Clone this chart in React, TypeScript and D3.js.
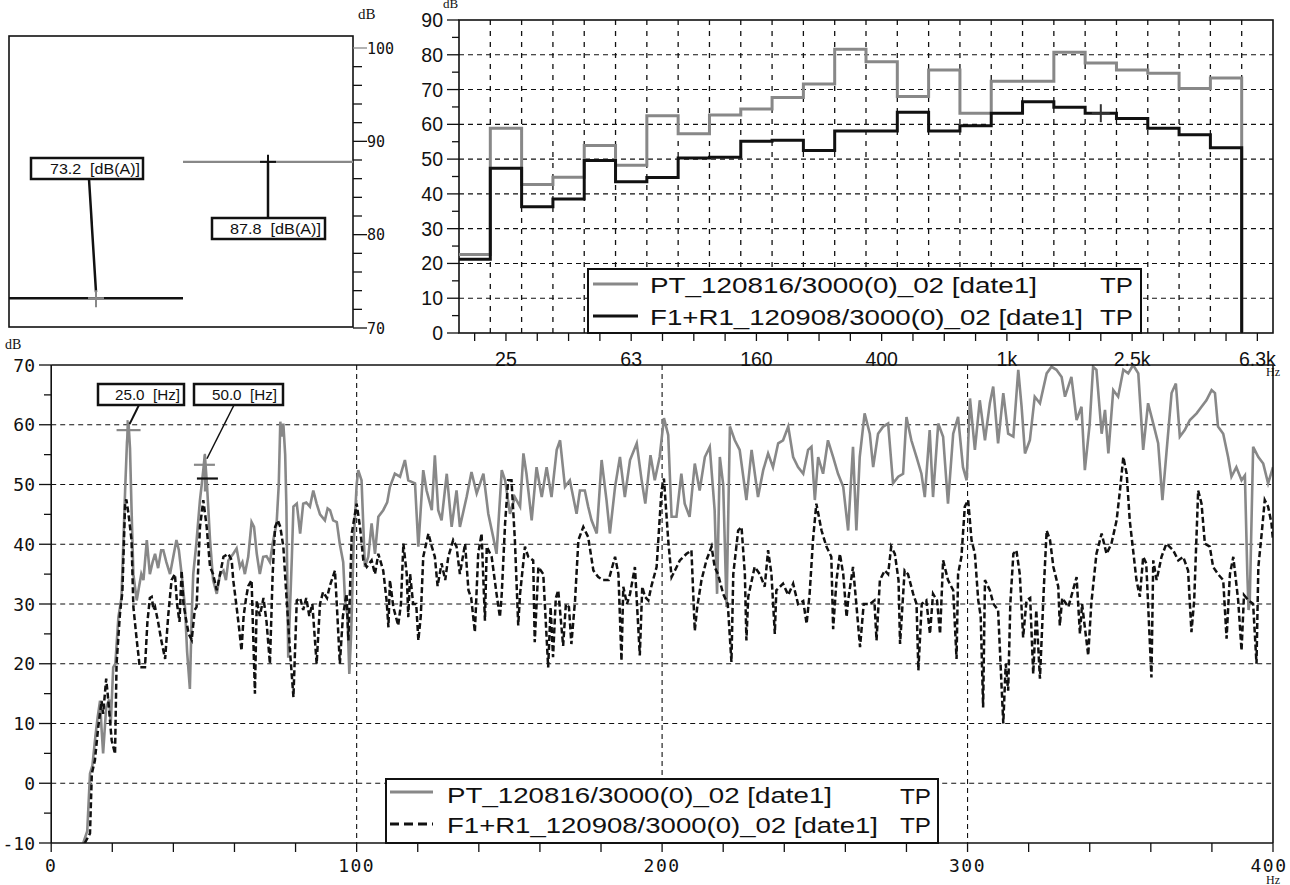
import React from 'react';
import * as d3 from 'd3';

// ---------------- data ----------------
const bandNames = ['20', '25', '31.5', '40', '50', '63', '80', '100', '125', '160', '200', '250', '315', '400', '500', '630', '800', '1k', '1.25k', '1.6k', '2k', '2.5k', '3.15k', '4k', '5k', '6.3k'];
const bandLabels = ['25', '63', '160', '400', '1k', '2.5k', '6.3k'];
const bandGray = [22.6, 58.9, 42.7, 44.8, 53.9, 48.2, 62.5, 57.3, 62.7, 64.4, 67.7, 71.6, 81.6, 78.0, 68.0, 75.6, 63.2, 72.4, 72.4, 80.7, 77.6, 75.6, 74.7, 70.3, 73.3];
const bandBlack = [21.2, 47.4, 36.3, 38.5, 49.6, 43.5, 44.7, 50.3, 50.5, 55.1, 55.4, 52.5, 58.1, 58.1, 63.5, 58.1, 59.6, 63.2, 66.5, 64.9, 63.2, 61.7, 58.9, 57.0, 53.3];
const bandTicks = [0, 10, 20, 30, 40, 50, 60, 70, 80, 90];
const bandCursor = { band: '2k', value: 63.2 };

const overallBlack = 73.2;
const overallGray = 87.8;
const overallTicks = [70, 80, 90, 100];

const specTicksY = [-10, 0, 10, 20, 30, 40, 50, 60, 70];
const specTicksX = [0, 100, 200, 300, 400];
const cursorHz = [25, 50];
const cursorGray = [59.1, 53.3];
const cursorBlack50 = 51.0;
const legendNames = ['PT_120816/3000(0)_02 [date1]', 'F1+R1_120908/3000(0)_02 [date1]'];

const specGray: [number, number][] = [
  [10.5, -10], [11.8, -8], [12.7, 1.6], [13.5, 3], [14.5, 8], [15.2, 11], [16, 13.8], [16.5, 9], [17, 5], [18, 12.7], [19, 14], [19.5, 10], [20.3, 19.4], [21, 20], [22, 27.8], [23, 31], [23.6, 40], [24.2, 49], [24.8, 57], [25.3, 60.5], [25.8, 56], [26.3, 46], [26.9, 35], [28, 30.6], [28.8, 33], [29.5, 35], [30.2, 34], [31.3, 40.7], [32.3, 35], [33.2, 37], [34, 38.4], [35, 36], [36, 39], [36.7, 39], [37.7, 37], [38.9, 35], [40, 38], [41, 40.7], [41.8, 39], [42.7, 35], [43.8, 29.5], [44.5, 22], [45.4, 15.8], [46, 28], [46.5, 35], [47.5, 40], [48.7, 47.4], [49.5, 51], [50.3, 55], [51, 50], [52, 40.7], [53, 34], [54.2, 31.7], [55.3, 35], [56.4, 35.6], [57.2, 34], [58, 37.3], [59.6, 38.4], [60.7, 39.3], [61.8, 36.2], [62.6, 37], [63.4, 35], [64.5, 37.9], [65.6, 43.7], [66.4, 42.9], [67.3, 38.4], [68.3, 35], [69.4, 37.9], [70.5, 38], [71.6, 37], [72.7, 40.7], [73.8, 43.5], [74.5, 50], [75, 60.5], [75.6, 58], [76, 60.2], [76.6, 55], [77, 46.3], [77.6, 21], [78.2, 29.5], [78.8, 38], [79.3, 46.3], [80.4, 46.8], [81.5, 41.8], [82.5, 46.8], [83.5, 47], [84.7, 46.3], [85.8, 49], [86.9, 46.8], [88, 45], [89.6, 44], [90.5, 46], [91.3, 45.7], [92.3, 44], [93.5, 43.7], [94.5, 40], [95.6, 37], [96.2, 30.6], [97, 28], [97.6, 18.3], [98.2, 25], [99, 40], [100, 50], [100.5, 52.4], [101.6, 50.7], [102.7, 36.2], [103.8, 37.9], [104.9, 43.5], [106, 38.4], [107.1, 44.6], [108.7, 45.7], [110, 47], [110.9, 49.6], [112.5, 51.8], [114.2, 51.3], [115.8, 54.1], [116.9, 50.7], [119.1, 50.2], [120.2, 39.6], [121.8, 52.4], [122.9, 49], [124.6, 45.7], [125.6, 54.9], [126.7, 45.7], [127.8, 44], [129.5, 51.8], [131.1, 42.9], [132.7, 49], [133.8, 42.9], [136, 47.9], [137.6, 52.1], [139.3, 48.5], [141.5, 51.8], [143.1, 45.1], [144.7, 41.2], [145.8, 38.4], [147.5, 52.4], [148.6, 50.7], [150.2, 45.1], [151.8, 47.9], [153.5, 46.3], [154.6, 55.2], [155.6, 51.8], [157.3, 44], [158.9, 52.9], [160.6, 47.9], [162.2, 52.9], [163.8, 47.9], [165.5, 55.8], [166.6, 57.4], [168.2, 49.6], [169.8, 50.7], [172, 45.1], [173.1, 49], [174.7, 49], [175.8, 46.3], [176.9, 44], [178.6, 41.8], [180.2, 54.1], [181.8, 47.4], [182.9, 41.8], [184.6, 49.6], [186.2, 54.6], [187.8, 47.9], [189.5, 54.1], [191.7, 56.9], [193.3, 50.7], [194.5, 46.8], [196.2, 54.9], [197.6, 50.7], [199.2, 54.6], [200.6, 61.1], [202, 58.3], [203.1, 44.6], [204.7, 44.6], [206.3, 51.8], [207.4, 46.8], [209, 44.6], [210.7, 53.5], [212.3, 49], [214, 54.6], [215.6, 56.3], [217.2, 45.7], [218, 31.7], [218.9, 54.6], [220, 50], [221.1, 29.5], [222.2, 59.7], [223.8, 57.4], [225.4, 55.8], [227.6, 47.4], [229.3, 55.8], [231.4, 47.9], [233.1, 52.4], [234.7, 55.2], [236.3, 52.9], [238, 56.9], [239.6, 57.4], [241.3, 59.7], [242.9, 54.6], [244.5, 52.9], [246.2, 51.8], [247.8, 55.8], [248.9, 56.3], [250, 47.4], [251.1, 54.6], [252.7, 51.8], [254.3, 57.4], [256, 54.6], [257.6, 51.8], [259.3, 49.6], [260.9, 42.3], [262.5, 56.3], [263.6, 42.3], [264.7, 54.6], [266.3, 61.9], [268, 58.5], [269.1, 52.9], [270.7, 58.5], [272.4, 59.7], [274, 60.2], [275.6, 50.2], [277.3, 51.3], [278.9, 51.8], [280, 61.3], [281.6, 57.4], [283.3, 54.6], [284.9, 51.8], [286, 47.9], [287.6, 59.1], [288.7, 47.9], [290.4, 60.2], [292, 58], [293.6, 46.8], [295.3, 58.5], [296.9, 61.3], [298.5, 52.9], [299.7, 50.7], [300.8, 64.4], [302.4, 55.8], [304, 64.1], [305.7, 57.4], [307.3, 63.6], [308.4, 66.4], [310, 56.9], [311.7, 65.3], [313.3, 58.5], [315, 58], [316.6, 69.2], [317.7, 63], [318.8, 55.2], [320.4, 57.4], [322, 64.7], [323.7, 63.6], [325.9, 68.6], [327.5, 69.7], [329.1, 69.2], [330.8, 68], [331.9, 64.7], [334, 68], [335.7, 60.8], [337.3, 63], [338.4, 52.4], [340, 60.2], [341.1, 69.7], [342.2, 69.2], [343.9, 58.5], [345, 62.5], [346.1, 55.2], [347.7, 65.8], [349.3, 64.7], [351, 69.2], [352.6, 68.6], [354.2, 70], [355.9, 68.6], [357.5, 55.8], [359.1, 63.6], [360.8, 60.2], [362.4, 56.9], [363.8, 47.4], [365.1, 55.2], [366.8, 65.3], [368.2, 66.9], [369.5, 58], [371.1, 59.1], [372.8, 60.8], [375, 61.9], [376.6, 63], [378.2, 64.1], [379.9, 65.8], [381, 65.3], [382, 59.7], [383.7, 58.5], [385.3, 54.6], [386.4, 51.3], [388, 52.9], [389.7, 50.7], [390.8, 51.5], [391.6, 35], [392, 29], [392.4, 30.6], [393.5, 56.3], [395.2, 54.6], [396.8, 53.5], [398.4, 50.2], [400, 52.9],
];

const specBlack: [number, number][] = [
  [11, -10], [12.7, -8.4], [13.3, 1.6], [14.3, 3.8], [15.4, 9.4], [16.5, 13.8], [17, 11.6], [18, 17.5], [18.7, 13.8], [19.8, 7.2], [20.9, 4.9], [21.4, 20], [22.5, 28.3], [23.3, 32], [24.2, 46.8], [24.6, 47.5], [25.3, 45.1], [26.3, 40.7], [26.9, 29.5], [28, 24], [29, 19.4], [30.7, 19.4], [31.5, 27], [32.3, 31], [32.9, 31.2], [33.5, 29], [34, 29.5], [35, 27], [36, 24], [37.3, 20.8], [38.3, 28], [39.4, 34], [40.5, 35], [41.2, 30], [42, 27], [42.7, 35.6], [43.3, 30], [44.3, 27], [45, 25], [46, 24], [47, 29], [47.6, 29.5], [48.7, 42.9], [49.8, 47.4], [50.9, 42.9], [52, 36.2], [53, 35], [54.2, 32.3], [55.3, 35], [56.4, 37.9], [58, 38.4], [59.1, 37.3], [59.6, 34], [60.7, 29.5], [61.5, 26], [62.3, 22.2], [63, 28], [63.8, 31], [64.5, 33], [65.6, 34], [66.7, 15], [67.3, 30.6], [68.3, 28], [69.5, 31], [70.5, 27], [71.6, 20], [72.5, 35], [73.3, 42.9], [74.2, 44], [75, 42.9], [76, 39.6], [77.1, 30.6], [78.2, 22], [79.3, 14.4], [80.4, 30.6], [81.5, 31], [82.5, 29], [83.5, 31], [84.5, 28], [85.5, 30], [86.9, 20], [88, 30], [89, 32], [90.3, 31], [91.2, 33], [92.9, 35.6], [93.7, 28], [94.5, 20], [95.5, 28], [96.7, 31.7], [97.3, 23.9], [98.4, 41.8], [100, 46.8], [101.1, 42.9], [102.2, 37.3], [103.3, 36.2], [104.9, 37.3], [106, 35], [107.1, 38.4], [108.7, 35.6], [109.8, 30.6], [110.4, 26.1], [110.9, 34], [112, 29.5], [113.6, 26.4], [114.5, 30], [115.3, 40.1], [116.4, 35], [116.9, 27.8], [117.5, 35], [118.5, 30], [119.5, 30], [120.2, 23.9], [121, 28], [121.8, 37.9], [123.5, 41.8], [124.6, 39.6], [125.6, 37.9], [126.5, 33], [127.8, 36.8], [129, 34], [130, 37.9], [131.6, 40.7], [132.7, 39.6], [133.8, 35], [135.5, 40.1], [136.6, 32.3], [137.5, 31], [138.7, 25.3], [139.8, 38.4], [140.9, 41.8], [142, 27.2], [142.6, 39.6], [144.2, 37.9], [145.8, 31.7], [146.9, 27.8], [147.5, 31.7], [148.6, 43.5], [149.6, 50.7], [150.7, 50.7], [151.8, 40.7], [152.9, 26.4], [153.5, 31.7], [155.1, 39.6], [156.2, 37.9], [157.8, 37.3], [158.3, 23.6], [159.5, 36.2], [161.1, 35], [162.7, 19.4], [163.5, 29.5], [164.3, 21.1], [165.2, 31], [166, 32.3], [167.6, 23], [168.5, 30], [169.5, 29.5], [170.3, 23.3], [171.5, 30.6], [172.6, 40.7], [174.2, 42.9], [175.8, 41.2], [177.5, 35.6], [179.1, 34.5], [180.7, 34], [182.5, 34], [184.6, 37.9], [185.7, 35], [186.7, 20.5], [187.3, 32.9], [188.5, 30], [189.5, 31.7], [191.1, 36.2], [192.7, 21.4], [193.5, 32.9], [194.4, 31.2], [195.5, 30.6], [196.5, 33], [198.2, 36.2], [199.8, 49], [200.6, 51], [202, 40.7], [203.1, 34.5], [204.2, 35.6], [205.8, 37.3], [208, 38.4], [209.6, 39], [210.7, 25.5], [211.5, 29.5], [212.9, 34], [214.5, 37.3], [216.2, 39.6], [217.2, 36.2], [218.3, 35], [220, 31.7], [221.5, 30], [222.7, 20.3], [223.3, 35], [224.9, 42.3], [226, 42.9], [227.1, 35], [227.6, 23.9], [228.2, 31.2], [230.3, 36.2], [232, 35], [233.6, 32.9], [234.7, 39], [235.8, 35], [236.9, 25], [237.4, 32.3], [239.6, 33.4], [241.3, 31.5], [242.9, 33.4], [244.5, 30], [246.2, 30.5], [247.3, 26.7], [248.3, 31.7], [249.4, 40.7], [250.5, 46.8], [252.2, 42.3], [253.8, 39.6], [255.4, 37.9], [256, 25.8], [257.1, 34], [258.2, 38.4], [259.3, 35], [260.4, 27.8], [260.9, 30.6], [262.5, 36.2], [263.5, 30.5], [264.8, 22.8], [266, 30], [268, 30], [269.5, 30.6], [270.2, 23.9], [271.3, 34], [272.9, 35.6], [274, 35], [275, 39.6], [276.2, 38.4], [277.4, 34], [277.9, 23.3], [279.4, 35.6], [280.5, 35], [282.2, 31.7], [283.3, 30], [283.9, 18.9], [285, 30], [286.5, 30.6], [287.7, 25], [288.7, 31.7], [290, 30.6], [291, 25], [292, 37.3], [293.6, 34], [295.3, 32.3], [296.4, 20.8], [296.9, 35], [298, 37.9], [299.1, 46.3], [300.2, 47.4], [301.3, 40.7], [302.4, 38.4], [303.5, 30.6], [304.3, 28], [305.1, 12.7], [305.7, 34], [307.3, 32.3], [308.5, 30], [310, 29], [311.7, 10], [312.5, 20], [313.3, 15.5], [314, 30], [315, 38.4], [316, 39], [317.1, 35], [318.2, 24.4], [319.3, 30.6], [320.5, 31], [321.5, 18.3], [322.5, 29], [323.7, 17.5], [325, 33], [325.9, 42.3], [327, 40.7], [328.1, 36.2], [329.7, 32.9], [330.2, 26.4], [331, 31], [333, 29.5], [335.7, 34.5], [336.8, 25], [337.5, 30], [339.5, 21.4], [340.5, 30], [342.2, 38.4], [343.9, 41.8], [345.5, 38.4], [347.1, 40.1], [348.8, 44], [349.9, 49], [351, 54.6], [352.1, 51.8], [353.1, 44], [354.2, 39], [355.3, 34], [356.4, 31.2], [357.5, 37.9], [358.5, 36.8], [360.2, 17.7], [360.8, 37.3], [361.9, 34], [363.5, 37.9], [365.1, 40.1], [367.3, 39], [369, 37.3], [370.6, 37.9], [372.2, 35.6], [373.3, 25.3], [374.2, 30.6], [375.5, 49], [376.6, 46.8], [377.7, 40.1], [379.3, 39.6], [380.4, 36.2], [382, 35], [383.7, 34], [384.8, 24.2], [385.9, 35], [387, 37.9], [388.6, 30.6], [389.7, 22.2], [390.5, 31.5], [392, 30.6], [393.5, 30], [394.6, 20], [395.2, 36.2], [396.3, 41.8], [397.3, 47.4], [398.4, 46.3], [399.5, 43.5], [400, 40.7],
];

// ---------------- component ----------------
const SANS = '"Liberation Sans", Arial, sans-serif';
const MONO = '"DejaVu Sans Mono", monospace';
const SERIF = '"Liberation Serif", serif';
const GRAY = '#888888';
const INK = '#111111';
const PRE = { whiteSpace: 'pre' as const };

export default function App() {
  // ---- top-left overall level panel ----
  const yL = d3.scaleLinear().domain([70, 100]).range([328, 48]);
  const minorL = d3.range(70, 100.01, 2);

  // ---- top-right third-octave panel ----
  const xb = d3.scaleBand<string>().domain(bandNames).range([459, 1273]).padding(0);
  const bw = xb.bandwidth();
  const yb = d3.scaleLinear().domain([0, 90]).range([333, 20]);
  const stepPts = (vals: number[]): [number, number][] => {
    const pts: [number, number][] = [];
    vals.forEach((v, i) => {
      const x0 = xb(bandNames[i]) as number;
      pts.push([x0, yb(v)], [x0 + bw, yb(v)]);
    });
    const xe = (xb(bandNames[vals.length - 1]) as number) + bw;
    pts.push([xe, yb(0)]);
    return pts;
  };
  const raw = d3.line<[number, number]>();
  const bandMinor = d3.range(0, 90.01, 5);
  const bandEdges = bandNames.slice(1).map((b) => xb(b) as number);

  // ---- bottom narrowband panel ----
  const xs = d3.scaleLinear().domain([0, 400]).range([51.2, 1273]);
  const ys = d3.scaleLinear().domain([-10, 70]).range([843, 365]);
  const spec = d3.line<[number, number]>().x((d) => xs(d[0])).y((d) => ys(d[1]));
  const specMinorY = d3.range(-10, 70.01, 5);
  const specMinorX = d3.range(0, 400.01, 20);

  const cx25 = xs(cursorHz[0]);
  const cy25 = ys(cursorGray[0]);
  const cx50 = xs(cursorHz[1]);
  const cy50g = ys(cursorGray[1]);
  const cy50b = ys(cursorBlack50);
  const cbx = (xb(bandCursor.band) as number) + bw / 2;
  const cby = yb(bandCursor.value);

  return (
    <div style={{ position: 'absolute', left: 0, top: 0 }}>
      <svg width={1290} height={885} viewBox="0 0 1290 885" style={{ display: 'block', background: '#fff' }}>
        <rect x={0} y={0} width={1290} height={885} fill="#fff" />
        <defs>
          <clipPath id="specClip">
            <rect x={xs(0)} y={ys(70)} width={xs(400) - xs(0)} height={ys(-10) - ys(70)} />
          </clipPath>
        </defs>

        {/* ================= top-left ================= */}
        <rect x={9} y={36} width={344} height={291} fill="none" stroke={INK} strokeWidth={1.6} />
        {minorL.map((t) => (
          <line key={'lm' + t} x1={353} x2={overallTicks.includes(t) ? 367 : 362} y1={yL(t)} y2={yL(t)} stroke={t === 100 ? GRAY : INK} strokeWidth={1.3} />
        ))}
        {overallTicks.map((t) => (
          <text key={'lt' + t} x={367} y={yL(t) + 5.5} fontFamily={MONO} fontSize={15} fill={INK}>{t}</text>
        ))}
        <text x={358} y={19} fontFamily={SERIF} fontSize={15} fill={INK}>dB</text>
        <line x1={9} x2={183} y1={yL(overallBlack)} y2={yL(overallBlack)} stroke={INK} strokeWidth={2.5} />
        <line x1={183} x2={353} y1={yL(overallGray)} y2={yL(overallGray)} stroke={GRAY} strokeWidth={2.2} />
        {/* cursor on black level */}
        <line x1={89} x2={96} y1={179} y2={yL(overallBlack) - 6} stroke={INK} strokeWidth={2.5} />
        <line x1={88} x2={104} y1={yL(overallBlack)} y2={yL(overallBlack)} stroke={GRAY} strokeWidth={2} />
        <line x1={96} x2={96} y1={yL(overallBlack) - 8} y2={yL(overallBlack) + 9} stroke={GRAY} strokeWidth={2} />
        <rect x={31} y={158} width={112} height={21} fill="#fff" stroke={INK} strokeWidth={2.5} />
        <text x={50} y={174} fontFamily={SANS} fontSize={15} fill={INK} style={PRE} textLength={90} lengthAdjust="spacingAndGlyphs">{`${overallBlack.toFixed(1)}  [dB(A)]`}</text>
        {/* cursor on gray level */}
        <line x1={268} x2={268} y1={yL(overallGray)} y2={218} stroke={INK} strokeWidth={2.5} />
        <line x1={260} x2={276} y1={yL(overallGray)} y2={yL(overallGray)} stroke={INK} strokeWidth={2} />
        <line x1={268} x2={268} y1={yL(overallGray) - 7} y2={yL(overallGray) + 8} stroke={INK} strokeWidth={2} />
        <rect x={212} y={218} width={113} height={21} fill="#fff" stroke={INK} strokeWidth={2.5} />
        <text x={230} y={234} fontFamily={SANS} fontSize={15} fill={INK} style={PRE} textLength={91} lengthAdjust="spacingAndGlyphs">{`${overallGray.toFixed(1)}  [dB(A)]`}</text>

        {/* ================= top-right ================= */}
        {bandTicks.filter((t) => t > 0 && t < 90).map((t) => (
          <line key={'bg' + t} x1={459} x2={1273} y1={yb(t)} y2={yb(t)} stroke={INK} strokeWidth={1.1} strokeDasharray="5,4" />
        ))}
        {bandEdges.map((x, i) => (
          <line key={'bv' + i} x1={x} x2={x} y1={20} y2={333} stroke={INK} strokeWidth={1.3} strokeDasharray="5,6" />
        ))}
        <rect x={459} y={20} width={1273 - 459} height={313} fill="none" stroke={INK} strokeWidth={1.6} />
        {bandMinor.map((t) => (
          <line key={'bm' + t} x1={t % 10 === 0 ? 447 : 452} x2={459} y1={yb(t)} y2={yb(t)} stroke={INK} strokeWidth={1.3} />
        ))}
        {bandTicks.map((t) => (
          <text key={'bt' + t} x={443} y={yb(t) + 7} textAnchor="end" fontFamily={SANS} fontSize={19.5} fill={INK}>{t}</text>
        ))}
        {bandNames.map((b) => (
          <line key={'bx' + b} x1={(xb(b) as number) + bw / 2} x2={(xb(b) as number) + bw / 2} y1={333} y2={341} stroke={INK} strokeWidth={1.3} />
        ))}
        {bandLabels.map((b) => (
          <text key={'bl' + b} x={(xb(b) as number) + bw / 2} y={366} textAnchor="middle" fontFamily={SANS} fontSize={19.5} fill={INK}>{b}</text>
        ))}
        <text x={443} y={8} fontFamily={SERIF} fontSize={13} fill={INK}>dB</text>
        <path d={raw(stepPts(bandGray)) as string} fill="none" stroke={GRAY} strokeWidth={3} />
        <path d={raw(stepPts(bandBlack)) as string} fill="none" stroke={INK} strokeWidth={3} />
        {/* cursor */}
        <line x1={cbx - 9} x2={cbx + 9} y1={cby} y2={cby} stroke="#333" strokeWidth={2} />
        <line x1={cbx} x2={cbx} y1={cby - 9} y2={cby + 9} stroke="#333" strokeWidth={2} />
        {/* legend */}
        <rect x={588} y={269} width={553} height={64} fill="#fff" stroke={INK} strokeWidth={2} />
        <line x1={593} x2={638} y1={284} y2={284} stroke={GRAY} strokeWidth={3} />
        <line x1={593} x2={638} y1={316} y2={316} stroke={INK} strokeWidth={3} />
        <text x={650} y={293} fontFamily={SANS} fontSize={22} fill={INK} textLength={387} lengthAdjust="spacingAndGlyphs">{legendNames[0]}</text>
        <text x={650} y={325} fontFamily={SANS} fontSize={22} fill={INK} textLength={433} lengthAdjust="spacingAndGlyphs">{legendNames[1]}</text>
        <text x={1100} y={293} fontFamily={SANS} fontSize={22} fill={INK} textLength={33} lengthAdjust="spacingAndGlyphs">TP</text>
        <text x={1100} y={325} fontFamily={SANS} fontSize={22} fill={INK} textLength={33} lengthAdjust="spacingAndGlyphs">TP</text>
        <text x={1266} y={376} fontFamily={SERIF} fontSize={12} fill={INK}>Hz</text>

        {/* ================= bottom ================= */}
        {specTicksY.filter((t) => t > -10 && t < 70).map((t) => (
          <line key={'sg' + t} x1={xs(0)} x2={xs(400)} y1={ys(t)} y2={ys(t)} stroke={INK} strokeWidth={1.1} strokeDasharray="5,4" />
        ))}
        {specTicksX.filter((t) => t > 0 && t < 400).map((t) => (
          <line key={'sv' + t} x1={xs(t)} x2={xs(t)} y1={ys(70)} y2={ys(-10)} stroke={INK} strokeWidth={1.1} strokeDasharray="5,4" />
        ))}
        <g clipPath="url(#specClip)">
          <path d={spec(specGray) as string} fill="none" stroke={GRAY} strokeWidth={2.6} strokeLinejoin="miter" />
          <path d={spec(specBlack) as string} fill="none" stroke={INK} strokeWidth={2.5} strokeDasharray="6,3" />
        </g>
        <line x1={xs(0)} x2={xs(400)} y1={ys(70)} y2={ys(70)} stroke={INK} strokeWidth={1.6} />
        <line x1={xs(400)} x2={xs(400)} y1={ys(70)} y2={ys(-10)} stroke={INK} strokeWidth={1.6} />
        <line x1={xs(0)} x2={xs(0)} y1={ys(70)} y2={ys(-10)} stroke={INK} strokeWidth={1.6} />
        <line x1={xs(0)} x2={xs(400)} y1={ys(-10)} y2={ys(-10)} stroke={INK} strokeWidth={1.6} />
        {specMinorY.map((t) => (
          <line key={'sy' + t} x1={t % 10 === 0 ? 39 : 44} x2={xs(0)} y1={ys(t)} y2={ys(t)} stroke={INK} strokeWidth={1.3} />
        ))}
        {specTicksY.map((t) => (
          <text key={'syl' + t} x={35} y={ys(t) + 6.5} textAnchor="end" fontFamily={MONO} fontSize={18} fill={INK}>{t}</text>
        ))}
        {specMinorX.map((t) => (
          <line key={'sx' + t} x1={xs(t)} x2={xs(t)} y1={ys(-10)} y2={ys(-10) + 9} stroke={INK} strokeWidth={1.3} />
        ))}
        {specTicksX.map((t) => (
          <text key={'sxl' + t} x={t === 400 ? xs(t) - 4 : xs(t)} y={872} textAnchor="middle" fontFamily={MONO} fontSize={18} letterSpacing={1.5} fill={INK}>{t}</text>
        ))}
        <text x={5} y={349} fontFamily={SERIF} fontSize={14} fill={INK}>dB</text>
        <text x={1266} y={884} fontFamily={SERIF} fontSize={12} fill={INK}>Hz</text>

        {/* cursors */}
        <line x1={139} x2={cx25 + 2} y1={405} y2={cy25 - 6} stroke={INK} strokeWidth={2} />
        <line x1={cx25 - 11} x2={cx25 + 13} y1={cy25} y2={cy25} stroke={GRAY} strokeWidth={2.2} />
        <line x1={cx25} x2={cx25} y1={cy25 - 10} y2={cy25 + 11} stroke={GRAY} strokeWidth={2.2} />
        <rect x={98} y={384} width={86} height={21} fill="#fff" stroke={INK} strokeWidth={2.5} />
        <text x={115} y={400} fontFamily={SANS} fontSize={14} fill={INK} style={PRE} textLength={65} lengthAdjust="spacingAndGlyphs">{`${cursorHz[0].toFixed(1)}  [Hz]`}</text>

        <line x1={234} x2={cx50 + 3} y1={405} y2={cy50g - 6} stroke={INK} strokeWidth={1.5} />
        <line x1={cx50 + 1} x2={cx50 + 1} y1={cy50g - 11} y2={cy50b + 13} stroke={GRAY} strokeWidth={2.2} />
        <line x1={cx50 - 10} x2={cx50 + 11} y1={cy50g} y2={cy50g} stroke={GRAY} strokeWidth={2.2} />
        <line x1={cx50 - 7} x2={cx50 + 14} y1={cy50b} y2={cy50b} stroke={INK} strokeWidth={2.2} />
        <rect x={194} y={384} width={89} height={21} fill="#fff" stroke={INK} strokeWidth={2.5} />
        <text x={212} y={400} fontFamily={SANS} fontSize={14} fill={INK} style={PRE} textLength={65} lengthAdjust="spacingAndGlyphs">{`${cursorHz[1].toFixed(1)}  [Hz]`}</text>

        {/* legend */}
        <rect x={386} y={779} width={552} height={64} fill="#fff" stroke={INK} strokeWidth={2} />
        <line x1={390} x2={433} y1={792} y2={792} stroke={GRAY} strokeWidth={3} />
        <line x1={390} x2={433} y1={824} y2={824} stroke={INK} strokeWidth={3} strokeDasharray="9,5" />
        <text x={447} y={803} fontFamily={SANS} fontSize={22} fill={INK} textLength={385} lengthAdjust="spacingAndGlyphs">{legendNames[0]}</text>
        <text x={447} y={833} fontFamily={SANS} fontSize={22} fill={INK} textLength={431} lengthAdjust="spacingAndGlyphs">{legendNames[1]}</text>
        <text x={900} y={804} fontFamily={SANS} fontSize={22} fill={INK} textLength={31} lengthAdjust="spacingAndGlyphs">TP</text>
        <text x={900} y={833} fontFamily={SANS} fontSize={22} fill={INK} textLength={31} lengthAdjust="spacingAndGlyphs">TP</text>
      </svg>
    </div>
  );
}
